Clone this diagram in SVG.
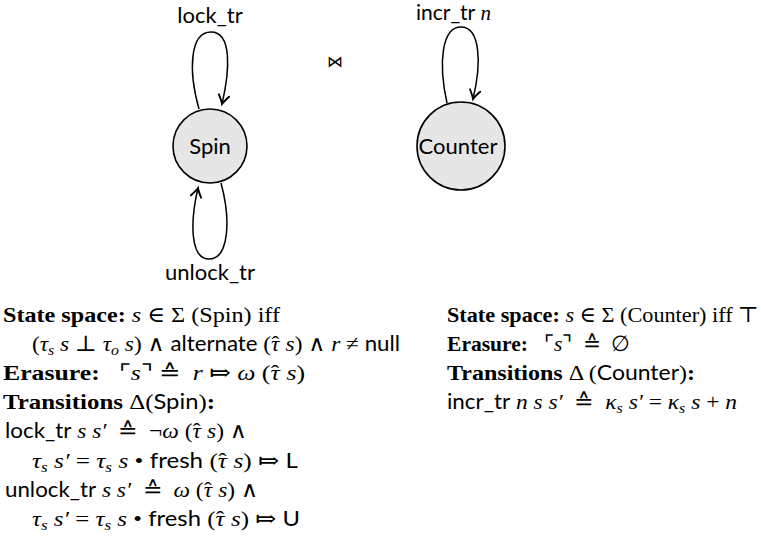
<svg xmlns="http://www.w3.org/2000/svg" width="761" height="539" viewBox="0 0 761 539">
<style>
text{font-family:"Liberation Serif","DejaVu Serif",serif;font-size:22px;fill:#000;white-space:pre}
.b{font-weight:bold}
.i{font-style:italic}
.sf{font-family:Lato,"Noto Sans","DejaVu Sans",sans-serif;font-size:21px}
.sub{font-style:italic;font-size:15px}
.node{fill:#e6e6e6;stroke:#000;stroke-width:1.6}
.edge{fill:none;stroke:#000;stroke-width:1.5}
.lbl{font-family:Lato,"Noto Sans","DejaVu Sans",sans-serif;font-size:22px}
</style>
<defs>
<marker id="arr" markerUnits="userSpaceOnUse" markerWidth="14" markerHeight="14" viewBox="-8 -6 10 12" refX="0" refY="0" orient="auto">
<path d="M -7.5 -4.5 Q -2.5 -1 0 0 Q -2.5 1 -7.5 4.5" fill="none" stroke="#000" stroke-width="1.6" stroke-linecap="round"/>
</marker>
</defs>
<g id="connectors">
<path id="e-lock" class="edge" d="M 199 109 C 188 70, 190 32, 211 32 C 232 32, 230 70, 222 104" marker-end="url(#arr)"/>
<path id="e-unlock" class="edge" d="M 221 183 C 231 220, 229 259, 209 259 C 190 259, 190 222, 198 188" marker-end="url(#arr)"/>
<path id="e-incr" class="edge" d="M 447 103 C 438 62, 442 27, 461 27 C 480 27, 482 62, 473 99" marker-end="url(#arr)"/>
<text class="lbl" x="210" y="23" text-anchor="middle">lock_tr</text>
<text class="lbl" x="210" y="280" text-anchor="middle">unlock_tr</text>
<text x="416" y="20" style="font-size:21px"><tspan class="lbl" style="font-size:21px">incr_tr</tspan> <tspan class="i">n</tspan></text>
</g>
<g id="node-spin">
<circle class="node" cx="210" cy="146" r="37"/>
<text class="lbl" x="210" y="154" text-anchor="middle">Spin</text>
</g>
<g id="node-counter">
<circle class="node" cx="461" cy="146" r="44"/>
<text class="lbl" x="458" y="154" text-anchor="middle">Counter</text>
</g>
<text x="335" y="67" text-anchor="middle" style="font-family:'DejaVu Sans',sans-serif;font-size:16px">⋈</text>
<g id="spin-spec">
<text x="3" y="322" textLength="277" lengthAdjust="spacingAndGlyphs"><tspan class="b">State space:</tspan> <tspan class="i">s</tspan> ∈ Σ (Spin) iff</text>
<text x="32" y="351" textLength="368" lengthAdjust="spacingAndGlyphs">(<tspan class="i">τ</tspan><tspan class="sub" dy="4">s</tspan><tspan dy="-4"> </tspan><tspan class="i">s</tspan> ⊥ <tspan class="i">τ</tspan><tspan class="sub" dy="4">o</tspan><tspan dy="-4"> </tspan><tspan class="i">s</tspan>) ∧ <tspan class="sf">alternate</tspan> (<tspan class="i">τ</tspan><tspan dx="-7.5">ˆ</tspan><tspan dx="0.5"> </tspan><tspan class="i">s</tspan>) ∧ <tspan class="i">r</tspan> ≠ <tspan class="sf">null</tspan></text>
<text x="3" y="380" textLength="302" lengthAdjust="spacingAndGlyphs"><tspan class="b">Erasure:</tspan>   ⌜<tspan class="i">s</tspan>⌝ ≙  <tspan class="i">r</tspan> ⤇ <tspan class="i">ω</tspan> (<tspan class="i">τ</tspan><tspan dx="-7.5">ˆ</tspan><tspan dx="0.5"> </tspan><tspan class="i">s</tspan>)</text>
<text x="3" y="409" textLength="212" lengthAdjust="spacingAndGlyphs"><tspan class="b">Transitions</tspan> Δ(<tspan class="sf">Spin</tspan>)<tspan class="b">:</tspan></text>
<text x="5" y="438" textLength="242" lengthAdjust="spacingAndGlyphs"><tspan class="sf">lock_tr</tspan> <tspan class="i">s s′</tspan>  ≙  ¬<tspan class="i">ω</tspan> (<tspan class="i">τ</tspan><tspan dx="-7.5">ˆ</tspan><tspan dx="0.5"> </tspan><tspan class="i">s</tspan>) ∧</text>
<text x="32" y="468" textLength="266" lengthAdjust="spacingAndGlyphs"><tspan class="i">τ</tspan><tspan class="sub" dy="4">s</tspan><tspan dy="-4"> </tspan><tspan class="i">s′</tspan> = <tspan class="i">τ</tspan><tspan class="sub" dy="4">s</tspan><tspan dy="-4"> </tspan><tspan class="i">s</tspan> • <tspan class="sf">fresh</tspan> (<tspan class="i">τ</tspan><tspan dx="-7.5">ˆ</tspan><tspan dx="0.5"> </tspan><tspan class="i">s</tspan>) ⤇ <tspan class="sf">L</tspan></text>
<text x="5" y="497" textLength="253" lengthAdjust="spacingAndGlyphs"><tspan class="sf">unlock_tr</tspan> <tspan class="i">s s′</tspan>  ≙  <tspan class="i">ω</tspan> (<tspan class="i">τ</tspan><tspan dx="-7.5">ˆ</tspan><tspan dx="0.5"> </tspan><tspan class="i">s</tspan>) ∧</text>
<text x="32" y="526" textLength="268" lengthAdjust="spacingAndGlyphs"><tspan class="i">τ</tspan><tspan class="sub" dy="4">s</tspan><tspan dy="-4"> </tspan><tspan class="i">s′</tspan> = <tspan class="i">τ</tspan><tspan class="sub" dy="4">s</tspan><tspan dy="-4"> </tspan><tspan class="i">s</tspan> • <tspan class="sf">fresh</tspan> (<tspan class="i">τ</tspan><tspan dx="-7.5">ˆ</tspan><tspan dx="0.5"> </tspan><tspan class="i">s</tspan>) ⤇ <tspan class="sf">U</tspan></text>
</g>
<g id="counter-spec">
<text x="447" y="322" textLength="312" lengthAdjust="spacingAndGlyphs"><tspan class="b">State space:</tspan> <tspan class="i">s</tspan> ∈ Σ (Counter) iff ⊤</text>
<text x="447" y="351" textLength="183" lengthAdjust="spacingAndGlyphs"><tspan class="b">Erasure:</tspan>   ⌜<tspan class="i">s</tspan>⌝  ≙  ∅</text>
<text x="447" y="380" textLength="248" lengthAdjust="spacingAndGlyphs"><tspan class="b">Transitions</tspan> Δ (<tspan class="sf">Counter</tspan>)<tspan class="b">:</tspan></text>
<text x="447" y="409" textLength="290" lengthAdjust="spacingAndGlyphs"><tspan class="sf">incr_tr</tspan> <tspan class="i">n s s′</tspan>  ≙  <tspan class="i">κ</tspan><tspan class="sub" dy="4">s</tspan><tspan dy="-4"> </tspan><tspan class="i">s′</tspan> = <tspan class="i">κ</tspan><tspan class="sub" dy="4">s</tspan><tspan dy="-4"> </tspan><tspan class="i">s</tspan> + <tspan class="i">n</tspan></text>
</g>
</svg>
